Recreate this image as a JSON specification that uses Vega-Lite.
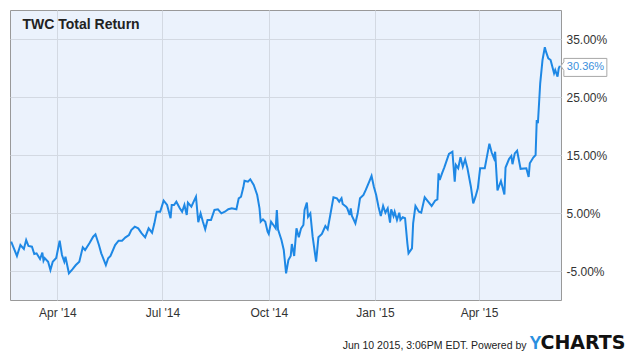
{
  "$schema": "https://vega.github.io/schema/vega-lite/v6.json",
  "width": 551,
  "height": 290,
  "autosize": "none",
  "padding": {"left": 10, "top": 10, "right": 79, "bottom": 56},
  "background": "white",
  "data": {
    "values": [
      {"date": "2014-02-20", "v": 0.0005},
      {"date": "2014-02-25", "v": -0.0241},
      {"date": "2014-02-28", "v": -0.0052},
      {"date": "2014-03-03", "v": -0.0121},
      {"date": "2014-03-05", "v": 0.0034},
      {"date": "2014-03-07", "v": -0.0069},
      {"date": "2014-03-10", "v": -0.0081},
      {"date": "2014-03-12", "v": -0.0207},
      {"date": "2014-03-14", "v": -0.0195},
      {"date": "2014-03-17", "v": -0.0293},
      {"date": "2014-03-19", "v": -0.0184},
      {"date": "2014-03-20", "v": -0.0322},
      {"date": "2014-03-21", "v": -0.0276},
      {"date": "2014-03-24", "v": -0.0340},
      {"date": "2014-03-26", "v": -0.0483},
      {"date": "2014-03-28", "v": -0.0340},
      {"date": "2014-03-31", "v": -0.0276},
      {"date": "2014-04-03", "v": 0.0022},
      {"date": "2014-04-05", "v": -0.0224},
      {"date": "2014-04-07", "v": -0.0340},
      {"date": "2014-04-08", "v": -0.0253},
      {"date": "2014-04-11", "v": -0.0540},
      {"date": "2014-04-14", "v": -0.0471},
      {"date": "2014-04-17", "v": -0.0397},
      {"date": "2014-04-20", "v": -0.0340},
      {"date": "2014-04-23", "v": -0.0091},
      {"date": "2014-04-25", "v": -0.0138},
      {"date": "2014-04-29", "v": -0.0012},
      {"date": "2014-05-02", "v": 0.0091},
      {"date": "2014-05-04", "v": 0.0133},
      {"date": "2014-05-07", "v": -0.0052},
      {"date": "2014-05-09", "v": -0.0195},
      {"date": "2014-05-13", "v": -0.0397},
      {"date": "2014-05-15", "v": -0.0281},
      {"date": "2014-05-17", "v": -0.0241},
      {"date": "2014-05-21", "v": -0.0052},
      {"date": "2014-05-24", "v": 0.0022},
      {"date": "2014-05-27", "v": 0.0022},
      {"date": "2014-05-30", "v": 0.0081},
      {"date": "2014-06-02", "v": 0.0121},
      {"date": "2014-06-04", "v": 0.0207},
      {"date": "2014-06-07", "v": 0.0264},
      {"date": "2014-06-10", "v": 0.0236},
      {"date": "2014-06-13", "v": 0.0150},
      {"date": "2014-06-16", "v": 0.0081},
      {"date": "2014-06-19", "v": 0.0236},
      {"date": "2014-06-22", "v": 0.0160},
      {"date": "2014-06-24", "v": 0.0322},
      {"date": "2014-06-26", "v": 0.0522},
      {"date": "2014-06-29", "v": 0.0522},
      {"date": "2014-07-02", "v": 0.0712},
      {"date": "2014-07-05", "v": 0.0638},
      {"date": "2014-07-08", "v": 0.0409},
      {"date": "2014-07-09", "v": 0.0638},
      {"date": "2014-07-11", "v": 0.0638},
      {"date": "2014-07-13", "v": 0.0695},
      {"date": "2014-07-16", "v": 0.0581},
      {"date": "2014-07-18", "v": 0.0522},
      {"date": "2014-07-20", "v": 0.0638},
      {"date": "2014-07-22", "v": 0.0466},
      {"date": "2014-07-23", "v": 0.0678},
      {"date": "2014-07-26", "v": 0.0609},
      {"date": "2014-07-28", "v": 0.0695},
      {"date": "2014-07-30", "v": 0.0781},
      {"date": "2014-08-01", "v": 0.0340},
      {"date": "2014-08-03", "v": 0.0495},
      {"date": "2014-08-05", "v": 0.0350},
      {"date": "2014-08-07", "v": 0.0219},
      {"date": "2014-08-09", "v": 0.0379},
      {"date": "2014-08-12", "v": 0.0379},
      {"date": "2014-08-15", "v": 0.0552},
      {"date": "2014-08-18", "v": 0.0564},
      {"date": "2014-08-21", "v": 0.0495},
      {"date": "2014-08-24", "v": 0.0522},
      {"date": "2014-08-27", "v": 0.0564},
      {"date": "2014-08-30", "v": 0.0581},
      {"date": "2014-09-03", "v": 0.0564},
      {"date": "2014-09-05", "v": 0.0753},
      {"date": "2014-09-07", "v": 0.0781},
      {"date": "2014-09-09", "v": 0.0943},
      {"date": "2014-09-10", "v": 0.1057},
      {"date": "2014-09-13", "v": 0.1040},
      {"date": "2014-09-15", "v": 0.1081},
      {"date": "2014-09-18", "v": 0.0983},
      {"date": "2014-09-21", "v": 0.0810},
      {"date": "2014-09-23", "v": 0.0581},
      {"date": "2014-09-24", "v": 0.0350},
      {"date": "2014-09-26", "v": 0.0391},
      {"date": "2014-09-28", "v": 0.0350},
      {"date": "2014-09-30", "v": 0.0178},
      {"date": "2014-10-01", "v": 0.0138},
      {"date": "2014-10-03", "v": 0.0350},
      {"date": "2014-10-05", "v": 0.0293},
      {"date": "2014-10-07", "v": 0.0236},
      {"date": "2014-10-08", "v": 0.0552},
      {"date": "2014-10-09", "v": 0.0219},
      {"date": "2014-10-12", "v": 0.0034},
      {"date": "2014-10-14", "v": -0.0138},
      {"date": "2014-10-16", "v": -0.0540},
      {"date": "2014-10-18", "v": -0.0310},
      {"date": "2014-10-20", "v": -0.0241},
      {"date": "2014-10-21", "v": -0.0034},
      {"date": "2014-10-23", "v": -0.0241},
      {"date": "2014-10-25", "v": 0.0236},
      {"date": "2014-10-27", "v": 0.0081},
      {"date": "2014-10-29", "v": 0.0236},
      {"date": "2014-10-31", "v": 0.0293},
      {"date": "2014-11-01", "v": 0.0552},
      {"date": "2014-11-03", "v": 0.0678},
      {"date": "2014-11-04", "v": 0.0436},
      {"date": "2014-11-06", "v": 0.0495},
      {"date": "2014-11-08", "v": 0.0091},
      {"date": "2014-11-11", "v": -0.0340},
      {"date": "2014-11-13", "v": 0.0081},
      {"date": "2014-11-16", "v": 0.0138},
      {"date": "2014-11-19", "v": 0.0276},
      {"date": "2014-11-21", "v": 0.0219},
      {"date": "2014-11-23", "v": 0.0436},
      {"date": "2014-11-26", "v": 0.0771},
      {"date": "2014-11-29", "v": 0.0753},
      {"date": "2014-12-01", "v": 0.0695},
      {"date": "2014-12-03", "v": 0.0753},
      {"date": "2014-12-04", "v": 0.0655},
      {"date": "2014-12-07", "v": 0.0609},
      {"date": "2014-12-08", "v": 0.0581},
      {"date": "2014-12-10", "v": 0.0466},
      {"date": "2014-12-11", "v": 0.0581},
      {"date": "2014-12-12", "v": 0.0448},
      {"date": "2014-12-13", "v": 0.0409},
      {"date": "2014-12-15", "v": 0.0322},
      {"date": "2014-12-17", "v": 0.0495},
      {"date": "2014-12-19", "v": 0.0753},
      {"date": "2014-12-22", "v": 0.0810},
      {"date": "2014-12-24", "v": 0.0897},
      {"date": "2014-12-27", "v": 0.1040},
      {"date": "2014-12-29", "v": 0.1138},
      {"date": "2014-12-31", "v": 0.0953},
      {"date": "2015-01-02", "v": 0.0810},
      {"date": "2015-01-04", "v": 0.0609},
      {"date": "2015-01-06", "v": 0.0448},
      {"date": "2015-01-08", "v": 0.0621},
      {"date": "2015-01-10", "v": 0.0505},
      {"date": "2015-01-12", "v": 0.0581},
      {"date": "2015-01-14", "v": 0.0333},
      {"date": "2015-01-15", "v": 0.0564},
      {"date": "2015-01-17", "v": 0.0448},
      {"date": "2015-01-18", "v": 0.0522},
      {"date": "2015-01-20", "v": 0.0379},
      {"date": "2015-01-22", "v": 0.0505},
      {"date": "2015-01-23", "v": 0.0379},
      {"date": "2015-01-25", "v": 0.0426},
      {"date": "2015-01-27", "v": 0.0409},
      {"date": "2015-01-29", "v": -0.0022},
      {"date": "2015-01-30", "v": -0.0195},
      {"date": "2015-02-02", "v": -0.0109},
      {"date": "2015-02-03", "v": 0.0322},
      {"date": "2015-02-05", "v": 0.0621},
      {"date": "2015-02-08", "v": 0.0522},
      {"date": "2015-02-10", "v": 0.0505},
      {"date": "2015-02-13", "v": 0.0771},
      {"date": "2015-02-16", "v": 0.0695},
      {"date": "2015-02-19", "v": 0.0621},
      {"date": "2015-02-22", "v": 0.0712},
      {"date": "2015-02-24", "v": 0.0736},
      {"date": "2015-02-25", "v": 0.1184},
      {"date": "2015-02-26", "v": 0.1069},
      {"date": "2015-02-28", "v": 0.1184},
      {"date": "2015-03-02", "v": 0.1288},
      {"date": "2015-03-06", "v": 0.1517},
      {"date": "2015-03-09", "v": 0.1557},
      {"date": "2015-03-11", "v": 0.1040},
      {"date": "2015-03-12", "v": 0.1328},
      {"date": "2015-03-14", "v": 0.1271},
      {"date": "2015-03-16", "v": 0.1460},
      {"date": "2015-03-18", "v": 0.1298},
      {"date": "2015-03-20", "v": 0.1426},
      {"date": "2015-03-22", "v": 0.1271},
      {"date": "2015-03-25", "v": 0.0953},
      {"date": "2015-03-27", "v": 0.0667},
      {"date": "2015-03-29", "v": 0.0781},
      {"date": "2015-03-31", "v": 0.0926},
      {"date": "2015-04-02", "v": 0.1271},
      {"date": "2015-04-06", "v": 0.1271},
      {"date": "2015-04-10", "v": 0.1695},
      {"date": "2015-04-12", "v": 0.1543},
      {"date": "2015-04-14", "v": 0.1443},
      {"date": "2015-04-15", "v": 0.1557},
      {"date": "2015-04-17", "v": 0.0891},
      {"date": "2015-04-20", "v": 0.1052},
      {"date": "2015-04-23", "v": 0.0819},
      {"date": "2015-04-24", "v": 0.1284},
      {"date": "2015-04-27", "v": 0.1431},
      {"date": "2015-04-29", "v": 0.1483},
      {"date": "2015-04-30", "v": 0.1341},
      {"date": "2015-05-02", "v": 0.1528},
      {"date": "2015-05-04", "v": 0.1574},
      {"date": "2015-05-07", "v": 0.1262},
      {"date": "2015-05-12", "v": 0.1271},
      {"date": "2015-05-14", "v": 0.1121},
      {"date": "2015-05-15", "v": 0.1357},
      {"date": "2015-05-18", "v": 0.1457},
      {"date": "2015-05-20", "v": 0.1500},
      {"date": "2015-05-21", "v": 0.2103},
      {"date": "2015-05-22", "v": 0.2047},
      {"date": "2015-05-24", "v": 0.2736},
      {"date": "2015-05-26", "v": 0.3138},
      {"date": "2015-05-28", "v": 0.3357},
      {"date": "2015-05-29", "v": 0.3281},
      {"date": "2015-05-31", "v": 0.3167},
      {"date": "2015-06-02", "v": 0.3138},
      {"date": "2015-06-05", "v": 0.2909},
      {"date": "2015-06-06", "v": 0.2966},
      {"date": "2015-06-08", "v": 0.2850},
      {"date": "2015-06-09", "v": 0.2990},
      {"date": "2015-06-10", "v": 0.3036}
    ]
  },
  "encoding": {
    "x": {
      "field": "date",
      "type": "temporal",
      "scale": {
        "type": "utc",
        "domain": [
          {"year": 2014, "month": 2, "date": 19, "utc": true},
          {"year": 2015, "month": 6, "date": 11, "utc": true}
        ]
      },
      "axis": {
        "values": [
          {"year": 2014, "month": 4, "date": 1, "utc": true},
          {"year": 2014, "month": 7, "date": 1, "utc": true},
          {"year": 2014, "month": 10, "date": 1, "utc": true},
          {"year": 2015, "month": 1, "date": 1, "utc": true},
          {"year": 2015, "month": 4, "date": 1, "utc": true}
        ],
        "labelExpr": "utcFormat(datum.value, \"%b '%y\")",
        "grid": true,
        "gridColor": "#d3d9e2",
        "ticks": false,
        "domain": false,
        "labelFont": "Liberation Sans",
        "labelFontSize": 12,
        "labelColor": "#333333",
        "labelPadding": 7,
        "labelFlush": false,
        "title": "Jun 10 2015, 3:06PM EDT.  Powered by",
        "titleX": 516,
        "titleY": 48,
        "titleAlign": "right",
        "titleAnchor": null,
        "titleBaseline": "alphabetic",
        "titleFont": "Liberation Sans",
        "titleFontSize": 10.5,
        "titleFontWeight": "normal",
        "titleColor": "#222222"
      }
    }
  },
  "layer": [
    {
      "mark": {"type": "line", "color": "#1e88e5", "strokeWidth": 2},
      "encoding": {
        "y": {
          "field": "v",
          "type": "quantitative",
          "scale": {"domain": [-0.1, 0.4], "nice": false, "zero": false},
          "axis": {
            "orient": "right",
            "values": [-0.05, 0.05, 0.15, 0.25, 0.35],
            "format": ".2%",
            "grid": true,
            "gridColor": "#d3d9e2",
            "ticks": false,
            "domain": false,
            "labelPadding": 5,
            "labelFont": "Liberation Sans",
            "labelFontSize": 12,
            "labelColor": "#333333",
            "title": "CHARTS",
            "titleX": -21,
            "titleY": 338,
            "titleAngle": 0,
            "titleAlign": "left",
            "titleBaseline": "alphabetic",
            "titleFont": "DejaVu Sans",
            "titleFontSize": 19,
            "titleFontWeight": "bold",
            "titleColor": "#111111"
          }
        }
      }
    },
    {
      "transform": [{"filter": "time(datum.date) == utc(2015, 5, 10)"}],
      "mark": {
        "type": "point",
        "shape": "M0.02,0L0.08,-0.08L0.08,-0.15L0.94,-0.15L0.94,0.21L0.08,0.21L0.08,0.09Z",
        "size": 10000,
        "filled": true,
        "fill": "white",
        "stroke": "#a8a8a8",
        "strokeWidth": 1,
        "opacity": 1
      },
      "encoding": {
        "y": {
          "field": "v",
          "type": "quantitative",
          "axis": {
            "orient": "left",
            "labels": false,
            "ticks": false,
            "domain": false,
            "grid": false,
            "title": "Y",
            "titleX": 525,
            "titleY": 338,
            "titleAngle": 0,
            "titleAlign": "center",
            "titleBaseline": "alphabetic",
            "titleFont": "Liberation Sans",
            "titleFontSize": 18,
            "titleFontWeight": "bold",
            "titleColor": "#2a8fe0"
          }
        }
      }
    },
    {
      "transform": [{"filter": "time(datum.date) == utc(2015, 5, 10)"}],
      "mark": {
        "type": "text",
        "align": "left",
        "baseline": "middle",
        "dx": 7,
        "dy": 1.5,
        "font": "Liberation Sans",
        "fontSize": 11,
        "color": "#3a8fdc"
      },
      "encoding": {
        "y": {
          "field": "v",
          "type": "quantitative",
          "axis": {
            "orient": "left",
            "labels": false,
            "ticks": false,
            "domain": false,
            "grid": false,
            "title": "TWC Total Return",
            "titleX": 12,
            "titleY": 18,
            "titleAngle": 0,
            "titleAlign": "left",
            "titleBaseline": "alphabetic",
            "titleFont": "Liberation Sans",
            "titleFontSize": 14,
            "titleFontWeight": "bold",
            "titleColor": "#222222"
          }
        },
        "text": {"field": "v", "type": "quantitative", "format": ".2%"}
      }
    }
  ],
  "resolve": {"axis": {"y": "independent"}},
  "config": {
    "view": {"fill": "#ebf2fc", "stroke": "#999999", "strokeWidth": 1},
    "locale": {
      "number": {
        "decimal": ".",
        "thousands": ",",
        "grouping": [3],
        "currency": ["$", ""],
        "minus": "-"
      }
    }
  }
}
